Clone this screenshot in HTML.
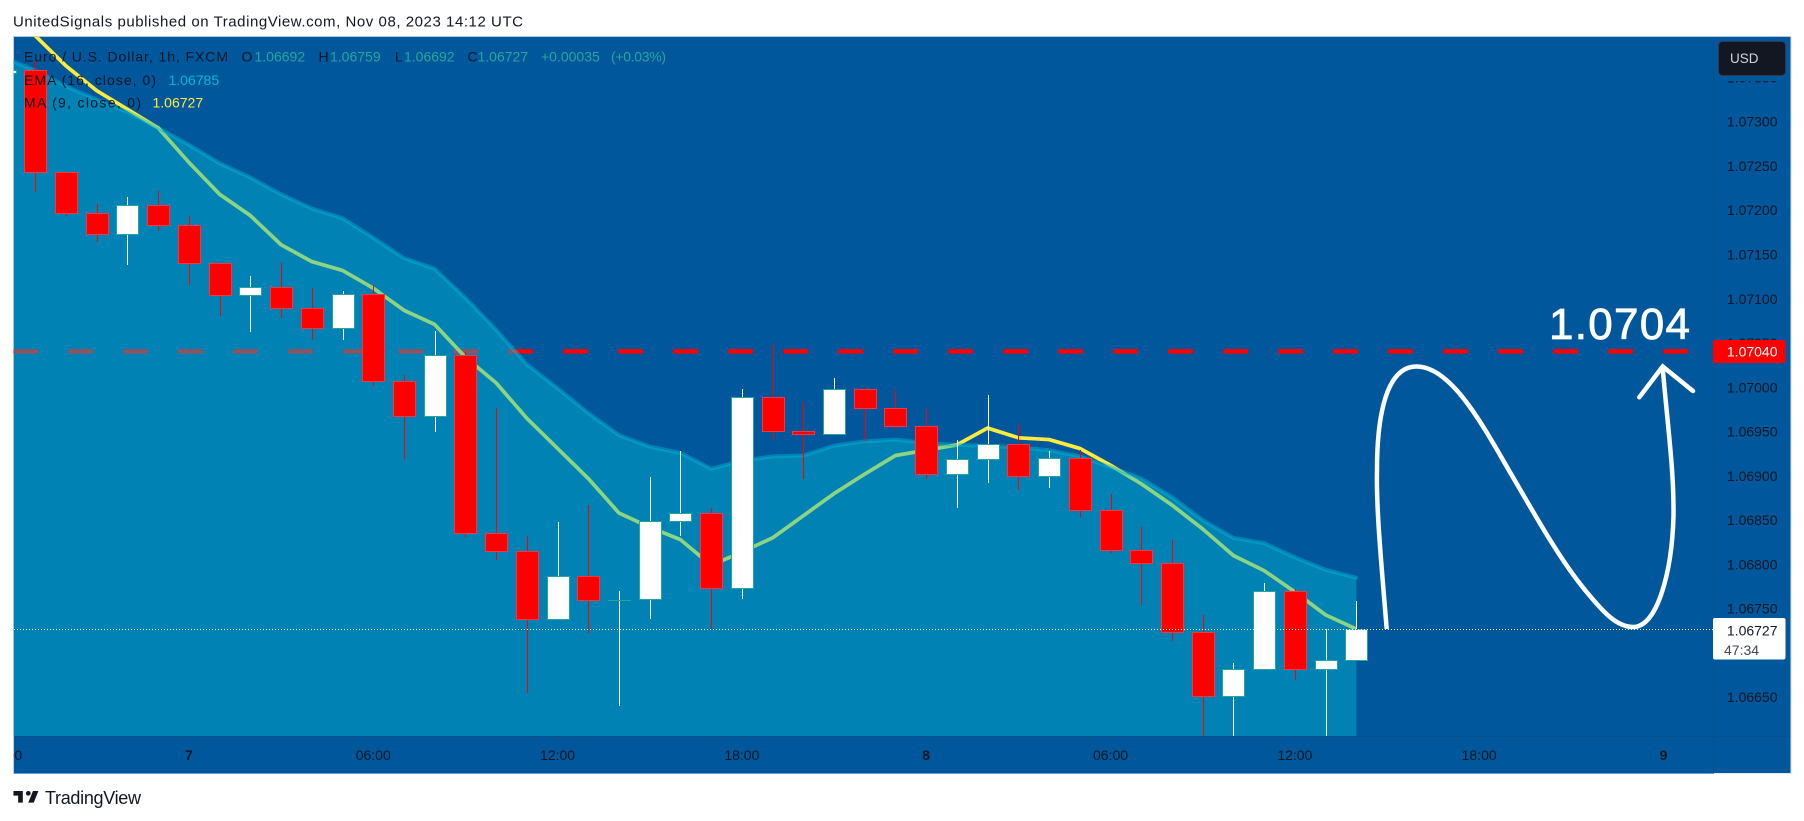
<!DOCTYPE html>
<html>
<head>
<meta charset="utf-8">
<title>EUR/USD 1h chart</title>
<style>
html,body{margin:0;padding:0;background:#fff;width:1804px;height:821px;overflow:hidden}
svg{display:block}
text{font-family:"Liberation Sans",sans-serif}
</style>
</head>
<body>
<svg id="chart" xmlns="http://www.w3.org/2000/svg" width="1804" height="821" viewBox="0 0 1804 821">
  <defs>
    <clipPath id="plot-clip"><rect x="13.5" y="36.5" width="1699.5" height="699.5"/></clipPath>
    <clipPath id="axis-clip"><rect x="13.5" y="737" width="1699.5" height="36"/></clipPath>
  </defs>
  <rect x="0" y="0" width="1804" height="821" fill="#ffffff"/>
  <text x="13" y="26.5" font-size="15" fill="#131722" textLength="510" lengthAdjust="spacing">UnitedSignals published on TradingView.com, Nov 08, 2023 14:12 UTC</text>
  <rect x="14" y="37" width="1776" height="736" fill="#01579b"/>
  <g>
    <rect x="13" y="36" width="1778" height="1" fill="#b4c9dd"/>
    <rect x="13" y="36" width="1" height="738" fill="#c3d2e0"/>
    <rect x="1790" y="37" width="1" height="736" fill="#6a9bd0"/>
    <rect x="1791" y="37" width="1" height="737" fill="#e3ebf3"/>
    <rect x="14" y="773" width="1700" height="1" fill="#6a9bd0"/>
    <rect x="1714" y="773" width="77" height="1" fill="#e3ebf3"/>
  </g>
  <g id="plot" clip-path="url(#plot-clip)"></g>
  <line x1="1713.5" y1="37" x2="1713.5" y2="773" stroke="#07508f" stroke-width="1"/>
  <line x1="14" y1="736.5" x2="1790" y2="736.5" stroke="#07508f" stroke-width="1"/>
  <g id="time-axis" clip-path="url(#axis-clip)"></g>
  <g id="price-axis"></g>

  <g>
    <path d="M1386.7 629 C1382 570,1376 510,1377 470 C1377 430,1382 366,1417 366.5 C1450 367,1480 420,1507 467 C1535 515,1560 560,1585 590 C1600 608,1615 627,1633 627 C1658 627,1672 570,1673.5 516 C1674 470,1668 430,1662.7 368" fill="none" stroke="#ffffff" stroke-width="4.5"/>
    <path d="M1639.3 397.3 L1662.7 366.5 L1693 391" fill="none" stroke="#ffffff" stroke-width="4.5" stroke-linecap="round" stroke-linejoin="miter"/>
    <text x="1549" y="339" font-size="44" fill="#ffffff" stroke="#ffffff" stroke-width="0.8" textLength="141" lengthAdjust="spacing">1.0704</text>
  </g>

  <g>
    <rect x="1713" y="340" width="72.5" height="23" rx="2" fill="#ff0000"/>
    <text x="1777.5" y="356.5" font-size="14" fill="#ffffff" text-anchor="end">1.07040</text>
  </g>
  <g>
    <rect x="1713" y="618" width="72.5" height="41.5" rx="2" fill="#ffffff"/>
    <text x="1777.5" y="635.5" font-size="14" fill="#131722" text-anchor="end">1.06727</text>
    <text x="1724" y="655" font-size="14" fill="#434651">47:34</text>
  </g>

  <g>
    <rect x="1714" y="37" width="76" height="44" fill="#01579b"/>
    <rect x="1718.5" y="41.5" width="67" height="34" rx="4" fill="#131722" stroke="#2a3a55" stroke-width="1"/>
    <text x="1730" y="63" font-size="13.5" fill="#d1d4dc">USD</text>
  </g>

  <g font-size="14">
    <text x="24" y="61.5" fill="#131722" textLength="204" lengthAdjust="spacing">Euro / U.S. Dollar, 1h, FXCM</text>
    <text x="241.5" y="61.5" fill="#131722">O</text>
    <text x="254.5" y="61.5" fill="#26a69a">1.06692</text>
    <text x="318.5" y="61.5" fill="#131722">H</text>
    <text x="330" y="61.5" fill="#26a69a">1.06759</text>
    <text x="395" y="61.5" fill="#131722">L</text>
    <text x="404" y="61.5" fill="#26a69a">1.06692</text>
    <text x="467.5" y="61.5" fill="#131722">C</text>
    <text x="477.5" y="61.5" fill="#26a69a">1.06727</text>
    <text x="541" y="61.5" fill="#26a69a">+0.00035</text>
    <text x="611" y="61.5" fill="#26a69a" textLength="55" lengthAdjust="spacing">(+0.03%)</text>
    <text x="24" y="85" fill="#131722" textLength="132" lengthAdjust="spacing">EMA (16, close, 0)</text>
    <text x="168.5" y="85" fill="#00b8d4">1.06785</text>
    <text x="24" y="107.5" fill="#131722" textLength="117" lengthAdjust="spacing">MA (9, close, 0)</text>
    <text x="152.5" y="107.5" fill="#ffeb3b">1.06727</text>
  </g>

  <g>
    <path transform="translate(11.9 786.3) scale(0.78)" d="M14 6H2v6h6v9h6V6zm14 15h-7l6-15h7l-6 15zm-7-9a3 3 0 1 0 0-6 3 3 0 0 0 0 6z" fill="#131722"/>
    <text x="45" y="804" font-size="18" fill="#131722" textLength="96" lengthAdjust="spacing">TradingView</text>
  </g>
</svg>

<script>
const opens = [1.07355,1.07358,1.07243,1.07197,1.07173,1.07206,1.07183,1.07140,1.07104,1.07113,1.07090,1.07067,1.07105,1.07007,1.06968,1.07037,1.06836,1.06815,1.06738,1.06787,1.06760,1.06761,1.06849,1.06858,1.06773,1.06989,1.06951,1.06947,1.06998,1.06977,1.06956,1.06902,1.06919,1.06936,1.06900,1.06920,1.06861,1.06816,1.06802,1.06724,1.06651,1.06682,1.06770,1.06682,1.06692];
const highs = [1.07375,1.07368,1.07243,1.07207,1.07215,1.07222,1.07194,1.07140,1.07126,1.07140,1.07112,1.07109,1.07116,1.07014,1.07064,1.07040,1.06977,1.06832,1.06848,1.06867,1.06770,1.06899,1.06928,1.06864,1.06998,1.07049,1.06983,1.07011,1.06999,1.06997,1.06977,1.06940,1.06991,1.06959,1.06928,1.06929,1.06880,1.06842,1.06828,1.06743,1.06689,1.06779,1.06772,1.06727,1.06759];
const lows = [1.07340,1.07221,1.07194,1.07164,1.07138,1.07177,1.07116,1.07080,1.07062,1.07078,1.07053,1.07053,1.07001,1.06919,1.06950,1.06831,1.06805,1.06655,1.06738,1.06722,1.06640,1.06738,1.06832,1.06727,1.06761,1.06941,1.06896,1.06947,1.06939,1.06953,1.06896,1.06864,1.06892,1.06884,1.06886,1.06853,1.06813,1.06754,1.06713,1.06600,1.06600,1.06682,1.06669,1.06600,1.06692];
const closes = [1.07358,1.07243,1.07197,1.07173,1.07206,1.07183,1.07140,1.07104,1.07113,1.07090,1.07067,1.07105,1.07007,1.06968,1.07037,1.06836,1.06815,1.06738,1.06787,1.06760,1.06760,1.06849,1.06858,1.06773,1.06989,1.06951,1.06947,1.06998,1.06977,1.06956,1.06902,1.06919,1.06936,1.06900,1.06920,1.06861,1.06816,1.06802,1.06724,1.06651,1.06682,1.06770,1.06682,1.06692,1.06727];
const emaValues = [1.07372,1.07358,1.07340,1.07325,1.07311,1.07293,1.07274,1.07253,1.07237,1.07218,1.07202,1.07191,1.07169,1.07146,1.07134,1.07101,1.07065,1.07026,1.06999,1.06971,1.06946,1.06933,1.06926,1.06908,1.06917,1.06922,1.06923,1.06934,1.06939,1.06941,1.06937,1.06935,1.06934,1.06932,1.06929,1.06922,1.06910,1.06897,1.06876,1.06850,1.06830,1.06824,1.06808,1.06794,1.06785];
const maValues = [1.07432,1.07397,1.07363,1.07335,1.07314,1.07293,1.07254,1.07218,1.07194,1.07161,1.07142,1.07132,1.07112,1.07087,1.07071,1.07034,1.07005,1.06965,1.06931,1.06897,1.06858,1.06842,1.06828,1.06799,1.06814,1.06830,1.06855,1.06880,1.06902,1.06923,1.06929,1.06935,1.06954,1.06943,1.06941,1.06931,1.06912,1.06891,1.06867,1.06840,1.06810,1.06793,1.06769,1.06743,1.06727];
const priceTicks = [1.0735,1.073,1.0725,1.072,1.0715,1.071,1.0705,1.07,1.0695,1.069,1.0685,1.068,1.0675,1.067,1.0665];
const timeTickBars = [0,6,12,18,24,30,36,42,48,54];
const timeTickLabels = ['18:00','7','06:00','12:00','18:00','8','06:00','12:00','18:00','9'];
const timeTickBold = ['7','8','9'];
const targetPrice = 1.0704;
const lastPrice = 1.06727;

const NS = 'http://www.w3.org/2000/svg';
function xScale(i) { return 4.6 + 30.72 * i; }
function yScale(p) { return 121.7 + (1.073 - p) / 0.0005 * 44.27; }
function mk(tag, attrs, parent) {
  const el = document.createElementNS(NS, tag);
  for (const k in attrs) el.setAttribute(k, attrs[k]);
  parent.appendChild(el);
  return el;
}
const plot = document.getElementById('plot');
const PLOT_BOTTOM = 736;
const PLOT_LEFT = 14;
const PLOT_RIGHT = 1713;

// target dashed line
const targetLine = mk('line', {x1: 13.3, x2: 1688, y1: yScale(targetPrice) - 0.5, y2: yScale(targetPrice) - 0.5, stroke: '#ff0000', 'stroke-width': 4.5, 'stroke-dasharray': '24.7 30.3'}, plot);



// MA line
const maPts = maValues.map((v, i) => xScale(i).toFixed(2) + ',' + yScale(v).toFixed(2)).join(' ');
const maLine = mk('polyline', {points: maPts, fill: 'none', stroke: '#ffeb3b', 'stroke-width': 3.7, 'stroke-linejoin': 'round'}, plot);



// EMA area and line
const emaPts = emaValues.map((v, i) => xScale(i).toFixed(2) + ',' + yScale(v).toFixed(2)).join(' ');
const lastX = xScale(emaValues.length - 1).toFixed(2);
const firstX = xScale(0).toFixed(2);
const emaArea = mk('polygon', {points: firstX + ',' + PLOT_BOTTOM + ' ' + emaPts + ' ' + lastX + ',' + PLOT_BOTTOM, fill: '#00b8d4', 'fill-opacity': 0.45}, plot);


const emaLine = mk('polyline', {points: emaPts, fill: 'none', stroke: '#00b8d4', 'stroke-opacity': 0.45, 'stroke-width': 4, 'stroke-linecap': 'round', 'stroke-linejoin': 'round'}, plot);



// candles
opens.forEach((o, i) => {
  const c = closes[i];
  const up = c >= o;
  const rx = Math.round(xScale(i));
  const wick = mk('rect', {x: rx, y: Math.round(yScale(highs[i])), width: 1, height: Math.max(1, Math.round(yScale(lows[i])) - Math.round(yScale(highs[i]))), fill: up ? '#ffffff' : '#ff0000', 'shape-rendering': 'crispEdges'}, plot);
  
  
  const top = Math.round(yScale(Math.max(o, c)));
  const bot = Math.round(yScale(Math.min(o, c)));
  const body = mk('rect', {x: rx - 10.5, y: top + 0.5, width: 22, height: Math.max(0.01, bot - top), fill: up ? '#ffffff' : '#ff0000', stroke: up ? '#26a69a' : '#f23645', 'stroke-width': 1, 'shape-rendering': 'crispEdges'}, plot);
  
  
});

// last price dotted line
const lastLine = mk('line', {x1: PLOT_LEFT, x2: PLOT_RIGHT, y1: Math.round(yScale(lastPrice)) + 0.5, y2: Math.round(yScale(lastPrice)) + 0.5, stroke: '#ffffff', 'stroke-width': 1, 'stroke-dasharray': '1 2'}, plot);



// price axis
const priceAxis = document.getElementById('price-axis');
priceTicks.forEach(p => {
  const t = mk('text', {x: 1777.5, y: yScale(p) + 5, 'font-size': 14, fill: '#131722', 'text-anchor': 'end'}, priceAxis);
  
  
  t.textContent = p.toFixed(5);
});

// time axis
const timeAxis = document.getElementById('time-axis');
timeTickBars.forEach((b, i) => {
  const label = timeTickLabels[i];
  const t = mk('text', {x: xScale(b), y: 760, 'font-size': 14, fill: '#131722', 'text-anchor': 'middle', 'font-weight': timeTickBold.includes(label) ? 'bold' : 'normal'}, timeAxis);
  
  
  t.textContent = label;
});
</script>
</body>
</html>
